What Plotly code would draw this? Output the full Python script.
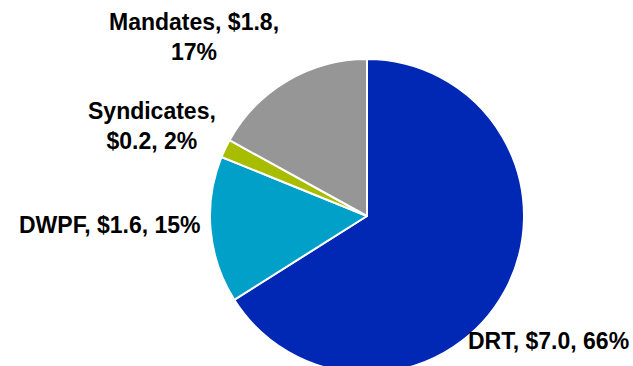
import plotly.graph_objects as go

categories = ["DRT", "DWPF", "Syndicates", "Mandates"]
values = [7.0, 1.6, 0.2, 1.8]
percents = [66, 15, 2, 17]
colors = ["#0028B4", "#00A0C8", "#A8BC00", "#969696"]

W, H = 633, 380

fig = go.Figure(go.Pie(
    labels=categories,
    values=values,
    sort=False,
    direction="clockwise",
    rotation=0,
    marker=dict(colors=colors, line=dict(color="white", width=2)),
    textinfo="none",
    hoverinfo="label+value+percent",
    showlegend=False,
    domain=dict(x=[210 / W, 524 / W], y=[(H - 373) / H, (H - 59) / H]),
))

# label texts built from the data
label_text = {
    "DRT": f"{categories[0]}, ${values[0]:.1f}, {percents[0]}%",
    "DWPF": f"{categories[1]}, ${values[1]:.1f}, {percents[1]}%",
    "Syndicates": f"{categories[2]},<br>${values[2]:.1f}, {percents[2]}%",
    "Mandates": f"{categories[3]}, ${values[3]:.1f},<br>{percents[3]}%",
}
label_pos = {  # pixel centers (x, y from top)
    "DRT": (548, 341),
    "DWPF": (110, 225),
    "Syndicates": (152, 126),
    "Mandates": (194, 37),
}
for cat in categories:
    px, py = label_pos[cat]
    fig.add_annotation(
        x=px / W, y=1 - py / H, xref="paper", yref="paper",
        xanchor="center", yanchor="middle", align="center",
        text=f"<b>{label_text[cat]}</b>", showarrow=False,
        font=dict(family="Liberation Sans, Arial, sans-serif", size=23, color="black"),
    )

fig.update_layout(
    width=W, height=H,
    margin=dict(l=0, r=0, t=0, b=0),
    paper_bgcolor="white", plot_bgcolor="white",
)

fig.write_html(
    "out.html",
    post_script="document.body.style.overflow='hidden';document.documentElement.style.overflow='hidden';",
)
